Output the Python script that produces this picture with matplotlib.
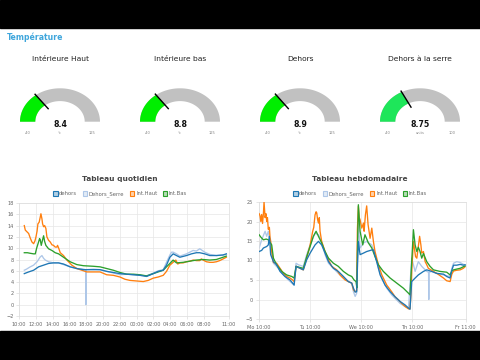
import numpy as np
import matplotlib
matplotlib.use("Agg")
import matplotlib.pyplot as plt
from matplotlib.patches import Polygon, Rectangle, Patch

# ---------------- data ----------------
section_title = "Température"

gauge_titles = ["Intérieure Haut", "Intérieure bas", "Dehors", "Dehors à la serre"]
gauge_values = [8.4, 8.8, 8.9, 8.75]
gauge_labels = ["8.4", "8.8", "8.9", "8.75"]
gauge_min = [-40, -40, -40, -40]
gauge_max = [125, 125, 125, 100]
gauge_units = ["°c", "°c", "°c", "units"]
gauge_colors = ["#00ee00", "#00ee00", "#00ee00", "#1ee65a"]

series_names = ["dehors", "Dehors_Serre", "Int.Haut", "Int.Bas"]
series_colors = ["#1f77b4", "#aec7e8", "#ff7f0e", "#2ca02c"]

# daily chart: hours since 10:00
day_tick_pos = [0, 2, 4, 6, 8, 10, 12, 14, 16, 18, 20, 22, 25]
day_tick_labels = ["10:00", "12:00", "14:00", "16:00", "18:00", "20:00", "22:00",
                   "00:00", "02:00", "04:00", "06:00", "08:00", "11:00"]

d_dehors_t = [0.63, 0.8, 1.15, 1.74, 2.33, 2.93, 3.52, 4.11, 4.71, 5.3, 6.09, 6.88, 7.67, 8.86,
              9.65, 10.44, 11.23, 12.03, 12.82, 13.61, 14.4, 15.19, 15.98, 16.57, 17.17, 17.56,
              17.96, 18.35, 18.75, 19.15, 19.94, 20.53, 21.12, 21.52, 22.11, 22.71, 23.5, 24.29, 24.68]
d_dehors_v = [5.5, 5.6, 5.8, 6.1, 6.7, 7.0, 7.3, 7.4, 7.4, 7.2, 6.7, 6.4, 6.2, 6.2,
              6.2, 5.9, 5.7, 5.5, 5.4, 5.3, 5.2, 5.0, 5.5, 5.9, 6.1, 7.0,
              8.4, 9.0, 8.7, 8.4, 8.7, 9.0, 9.2, 9.2, 9.0, 8.7, 8.7, 8.8, 9.0]

d_serre_t = [0.63, 0.9, 1.34, 1.74, 1.94, 2.15, 2.33, 2.5, 2.73, 2.93, 3.13, 3.52, 4.11, 4.71,
             5.3, 6.09, 6.88, 7.67, 7.93, 7.96, 7.99, 8.86, 9.65, 10.44, 11.23, 12.03, 12.82,
             13.61, 14.4, 15.19, 15.98, 16.57, 17.17, 17.56, 17.96, 18.16, 18.35, 18.75, 19.15,
             19.94, 20.73, 21.12, 21.52, 22.11, 22.71, 23.5, 24.29, 24.68]
d_serre_v = [6.1, 6.3, 6.7, 7.0, 7.3, 7.6, 8.0, 8.4, 8.7, 8.2, 7.9, 7.6, 7.4, 7.4,
             7.1, 6.7, 6.4, 6.3, 6.2, 0.0, 6.2, 6.3, 6.2, 5.9, 5.6, 5.3, 5.4,
             5.3, 5.2, 5.1, 5.6, 6.0, 6.2, 7.5, 8.8, 9.3, 9.3, 9.0, 8.6,
             9.0, 9.6, 9.5, 9.9, 9.3, 8.9, 8.7, 8.8, 8.9]

d_haut_t = [0.63, 0.75, 0.95, 1.15, 1.34, 1.54, 1.74, 1.9, 2.02, 2.15, 2.25, 2.4, 2.53, 2.61,
            2.73, 2.81, 2.93, 3.05, 3.2, 3.32, 3.52, 3.72, 3.92, 4.11, 4.31, 4.51, 4.59, 4.75,
            4.91, 5.3, 5.7, 6.29, 6.88, 7.48, 8.07, 8.86, 9.65, 10.44, 11.23, 12.03, 12.62,
            13.21, 14.0, 14.79, 15.39, 15.98, 16.57, 17.17, 17.56, 17.96, 18.35, 18.67, 18.9,
            19.15, 19.54, 19.94, 20.33, 20.73, 21.12, 21.52, 21.7, 21.91, 22.31, 22.71, 23.1,
            23.5, 23.89, 24.29, 24.68]
d_haut_v = [14.0, 13.2, 12.9, 12.6, 11.8, 11.1, 10.8, 11.3, 12.0, 13.0, 14.3, 14.6, 15.5, 16.1,
            15.2, 14.3, 13.8, 14.0, 13.5, 12.0, 11.4, 11.1, 10.6, 10.5, 10.2, 10.2, 10.5, 9.9,
            9.2, 8.7, 7.9, 7.0, 6.4, 6.1, 5.8, 5.8, 5.8, 5.3, 5.2, 4.9, 4.5,
            4.3, 4.2, 4.1, 4.3, 4.7, 4.9, 5.2, 5.9, 7.0, 7.5, 7.9, 7.2,
            7.4, 7.4, 7.6, 7.7, 7.9, 7.8, 7.8, 8.1, 7.9, 7.6, 7.5, 7.5,
            7.6, 7.8, 8.1, 8.4]

d_bas_t = [0.63, 1.0, 1.34, 1.74, 1.94, 2.1, 2.33, 2.45, 2.53, 2.65, 2.81, 2.93, 3.05, 3.2,
           3.52, 3.92, 4.31, 4.71, 5.3, 6.09, 6.88, 7.67, 8.86, 9.65, 10.44, 11.23, 12.03,
           12.82, 13.61, 14.4, 15.19, 15.98, 16.57, 17.17, 17.56, 17.96, 18.35, 18.75, 19.54,
           20.33, 21.12, 21.91, 22.71, 23.5, 24.29, 24.68]
d_bas_v = [9.2, 9.2, 9.1, 9.0, 9.0, 10.0, 11.1, 11.7, 11.5, 10.5, 11.5, 12.2, 11.2, 10.5,
           9.9, 9.6, 9.2, 9.0, 8.4, 7.6, 7.1, 6.9, 6.8, 6.7, 6.4, 6.1, 5.7,
           5.4, 5.4, 5.3, 5.1, 5.5, 5.8, 6.1, 6.7, 7.3, 7.9, 7.4, 7.5,
           7.7, 7.9, 8.0, 7.9, 8.0, 8.4, 8.6]

# weekly chart: hours since Monday 10:00
week_tick_pos = [0, 24, 48, 72, 97]
week_tick_labels = ["Mo 10:00", "Tu 10:00", "We 10:00", "Th 10:00", "Fr 11:00"]

w_dehors_t = [0.2, 1.4, 2.2, 3.75, 4.5, 5.0, 5.3, 5.6, 6.9, 8.4, 10.0, 12.3, 14.7, 15.9, 16.6,
              17.5, 19.4, 20.9, 22.5, 24.1, 26.4, 28.0, 29.5, 31.1, 32.7, 35.0, 37.3, 39.7,
              42.0, 43.6, 44.4, 45.2, 45.9, 46.25, 46.7, 47.5, 49.1, 50.6, 53.0, 53.75, 55.3,
              56.9, 59.2, 61.6, 63.9, 66.25, 68.6, 70.2, 70.9, 71.7, 73.3, 74.8, 77.2, 78.75,
              81.1, 83.4, 86.6, 88.1, 89.7, 90.5, 91.3, 92.8, 94.4, 95.9, 96.7]
w_dehors_v = [12.3, 12.6, 13.2, 13.6, 14.0, 16.2, 14.0, 11.5, 9.7, 8.9, 7.2, 5.9, 5.0, 4.2, 3.7,
              8.5, 8.0, 7.6, 10.2, 11.9, 14.0, 14.9, 14.0, 11.9, 9.7, 8.0, 7.2, 5.9,
              4.6, 4.2, 2.9, 1.9, 2.0, 8.0, 14.9, 11.5, 11.9, 12.3, 12.7, 12.7, 9.7,
              6.3, 3.7, 2.0, 0.7, -0.5, -1.4, -2.2, -2.5, 4.6, 5.5, 6.3, 7.2, 7.6,
              7.2, 6.7, 6.5, 5.9, 5.5, 7.5, 8.8, 8.8, 9.0, 8.8, 8.9]

w_serre_t = [0.2, 1.4, 3.0, 3.75, 4.5, 5.3, 6.1, 6.9, 9.2, 11.6, 13.9, 15.5, 16.6, 17.5, 18.6,
             20.9, 22.5, 24.1, 26.4, 28.0, 29.5, 31.1, 32.7, 35.0, 37.3, 39.7, 42.0, 43.6,
             44.4, 45.2, 45.9, 46.25, 46.7, 47.5, 49.1, 50.6, 53.0, 54.5, 56.1, 57.7, 60.0,
             62.3, 63.9, 66.25, 68.6, 70.2, 71.7, 73.3, 74.8, 76.4, 78.75, 79.6, 79.7, 79.8,
             81.1, 83.4, 86.6, 89.7, 90.5, 91.3, 92.8, 94.4, 95.9, 96.7]
w_serre_v = [13.2, 15.3, 17.5, 16.2, 17.5, 14.9, 11.5, 9.3, 8.0, 6.3, 5.0, 4.2, 3.7, 9.3, 8.9,
             8.5, 11.5, 14.0, 17.0, 16.6, 14.9, 11.5, 9.3, 8.0, 6.7, 5.5, 4.6, 4.2,
             2.0, 0.8, 1.6, 10.0, 20.0, 13.2, 14.5, 14.9, 14.0, 11.5, 8.0, 5.5, 2.9,
             1.2, 0.3, -1.0, -1.8, -2.2, 10.6, 7.2, 9.7, 8.5, 7.2, 7.0, 0.0, 7.0,
             7.2, 6.7, 6.3, 5.9, 8.0, 9.3, 9.7, 9.5, 9.0, 8.9]

w_haut_t = [0.2, 0.6, 1.0, 1.4, 1.8, 2.2, 2.5, 3.0, 3.4, 3.75, 4.1, 4.5, 5.0, 5.3, 5.6, 6.1,
            6.9, 8.4, 10.0, 11.6, 13.1, 14.7, 15.9, 16.6, 17.2, 17.5, 18.6, 19.4, 20.9, 22.5,
            24.1, 25.3, 25.8, 26.4, 26.9, 27.2, 27.6, 28.0, 28.4, 28.75, 29.5, 31.1, 32.7,
            34.2, 36.6, 38.1, 40.5, 42.0, 43.6, 44.4, 45.2, 45.9, 46.25, 46.7, 47.1, 47.5,
            48.3, 49.1, 49.4, 50.0, 50.6, 51.25, 52.2, 52.6, 53.0, 53.75, 54.5, 56.1, 57.7,
            60.0, 62.3, 63.9, 65.5, 67.0, 68.6, 70.2, 70.9, 71.3, 71.7, 72.5, 73.0, 73.5,
            74.1, 74.8, 75.4, 76.0, 76.4, 77.2, 78.0, 78.75, 79.5, 81.9, 84.0, 86.6, 88.1,
            89.7, 90.5, 91.3, 92.8, 94.4, 95.9, 96.7]
w_haut_v = [22.0, 21.5, 20.0, 21.8, 19.5, 22.0, 25.0, 21.0, 22.0, 20.0, 21.0, 18.0, 18.5, 16.0,
            15.0, 12.3, 9.5, 9.3, 8.0, 6.7, 5.9, 5.5, 5.0, 4.6, 7.0, 8.5, 8.2, 8.0, 7.6, 10.6,
            14.0, 17.5, 18.5, 21.7, 22.5, 22.2, 20.5, 19.6, 21.0, 17.5, 14.9, 12.3, 10.2,
            8.5, 7.6, 6.3, 5.0, 4.6, 4.2, 2.5, 2.0, 2.3, 18.0, 23.9, 21.0, 20.5,
            18.3, 19.6, 17.5, 21.7, 24.0, 19.2, 15.7, 17.0, 18.3, 14.9, 12.3, 8.9, 6.3,
            3.7, 2.0, 0.7, -0.1, -1.0, -1.8, -2.4, -2.4, 1.0, 7.2, 14.9, 13.0, 11.0,
            10.6, 13.6, 16.2, 14.0, 11.9, 12.3, 9.7, 8.9, 8.0, 7.2, 6.5, 5.5, 4.8,
            4.6, 6.5, 7.3, 7.5, 7.6, 8.0, 8.4]

w_bas_t = [0.2, 1.0, 2.2, 3.5, 4.5, 5.5, 6.1, 6.9, 8.4, 10.8, 13.1, 15.5, 16.6, 17.5, 19.4,
           20.9, 22.5, 24.1, 25.6, 26.9, 28.0, 29.5, 31.1, 32.7, 35.0, 37.3, 39.7, 42.0,
           43.6, 44.7, 45.6, 46.0, 46.25, 46.7, 47.5, 48.75, 49.8, 51.4, 53.0, 54.5, 56.1,
           58.4, 61.6, 64.7, 67.8, 70.2, 70.9, 71.7, 72.5, 73.3, 74.1, 74.8, 75.6, 76.4,
           77.2, 78.75, 80.3, 81.9, 85.0, 88.1, 89.7, 90.5, 91.3, 92.8, 94.4, 95.9, 96.7]
w_bas_v = [16.6, 16.0, 15.3, 15.5, 15.3, 14.5, 14.0, 10.6, 8.9, 7.2, 6.3, 5.9, 5.5, 8.5, 8.2,
           8.0, 11.0, 13.6, 16.2, 17.5, 16.2, 14.5, 12.3, 10.6, 9.3, 8.5, 7.2, 6.3,
           5.9, 5.0, 4.6, 3.0, 12.0, 24.3, 17.5, 14.0, 16.6, 14.5, 13.2, 11.0, 8.9,
           7.2, 5.5, 4.2, 2.9, 1.6, 1.2, 9.7, 17.9, 14.0, 12.3, 13.4, 12.3, 10.6,
           11.8, 9.7, 8.5, 7.6, 7.2, 7.0, 6.3, 7.3, 7.6, 7.8, 8.0, 8.4, 8.6]

# ---------------- figure ----------------
W, H = 480, 360
fig = plt.figure(figsize=(4.8, 3.6), dpi=100)
fig.patch.set_facecolor("white")
FONT = "DejaVu Sans"

bg = fig.add_axes([0, 0, 1, 1])
bg.set_xlim(0, W)
bg.set_ylim(H, 0)
bg.axis("off")
bg.add_patch(Rectangle((0, 0), W, 28, color="black", zorder=5))
bg.add_patch(Rectangle((0, 331), W, H - 331, color="black", zorder=5))

bg.text(7, 37, section_title, color="#3fa6dc", fontsize=5.6, fontweight="bold",
        va="center", ha="left", family=FONT)

# gauges
centers = [60, 180, 300, 420]
cy = 121.7
rxo, ryo = 40.0, 33.4
rxi, ryi = 24.7, 20.6


def band(cx, a0, a1):
    a = np.linspace(a0, a1, 80)
    outer = np.column_stack([cx + rxo * np.cos(a), cy - ryo * np.sin(a)])
    inner = np.column_stack([cx + rxi * np.cos(a[::-1]), cy - ryi * np.sin(a[::-1])])
    return np.vstack([outer, inner])


for i, cx in enumerate(centers):
    frac = (gauge_values[i] - gauge_min[i]) / (gauge_max[i] - gauge_min[i])
    ang = np.pi * (1 - frac)
    bg.add_patch(Polygon(band(cx, 0, np.pi), closed=True, facecolor="#c1c1c1",
                         edgecolor="none"))
    bg.add_patch(Polygon(band(cx, ang, np.pi), closed=True, facecolor=gauge_colors[i],
                         edgecolor="none"))
    r0, r1 = 0.47, 1.05
    bg.plot([cx + rxo * r0 * np.cos(ang), cx + rxo * r1 * np.cos(ang)],
            [cy - ryo * r0 * np.sin(ang), cy - ryo * r1 * np.sin(ang)],
            color="black", lw=1.0, solid_capstyle="butt")
    bg.text(cx, 59, gauge_titles[i], ha="center", va="center", fontsize=5.4,
            color="#222222", family=FONT)
    bg.text(cx, 124.5, gauge_labels[i], ha="center", va="center", fontsize=5.6,
            fontweight="bold", color="#111111", family=FONT)
    bg.text(cx - (rxo + rxi) / 2, 132.5, str(gauge_min[i]), ha="center", va="center",
            fontsize=2.6, color="#888888", family=FONT)
    bg.text(cx + (rxo + rxi) / 2, 132.5, str(gauge_max[i]), ha="center", va="center",
            fontsize=2.6, color="#888888", family=FONT)
    bg.text(cx, 133.5, gauge_units[i], ha="center", va="center",
            fontsize=2.6, color="#888888", family=FONT)


def style_axes(ax):
    ax.grid(True, color="#e6e6e6", lw=0.5)
    ax.set_axisbelow(True)
    for s in ax.spines.values():
        s.set_color("#dcdcdc")
        s.set_linewidth(0.5)
    ax.tick_params(axis="both", labelsize=3.6, colors="#dcdcdc", labelcolor="#666666",
                   length=2.5, width=0.5, pad=1.5)
    for lab in ax.get_xticklabels() + ax.get_yticklabels():
        lab.set_family(FONT)


def draw_series(ax, data):
    for (t, v), name, col, z in zip(data, series_names, series_colors, [5, 2, 3, 4]):
        ax.plot(t, v, color=col, lw=0.95, zorder=z, label=name)


def px(x0, y0, x1, y1):
    return [x0 / W, (H - y1) / H, (x1 - x0) / W, (y1 - y0) / H]


# daily
ax1 = fig.add_axes(px(19, 203, 229, 316))
draw_series(ax1, [(d_dehors_t, d_dehors_v), (d_serre_t, d_serre_v),
                  (d_haut_t, d_haut_v), (d_bas_t, d_bas_v)])
ax1.set_xlim(0, 25)
ax1.set_ylim(-2, 18)
ax1.set_yticks(np.arange(-2, 19, 2))
ax1.set_xticks(day_tick_pos)
ax1.set_xticklabels(day_tick_labels)
style_axes(ax1)

# weekly
ax2 = fig.add_axes(px(258.7, 202, 465.7, 319))
draw_series(ax2, [(w_dehors_t, w_dehors_v), (w_serre_t, w_serre_v),
                  (w_haut_t, w_haut_v), (w_bas_t, w_bas_v)])
ax2.set_xlim(0, 97)
ax2.set_ylim(-5, 25)
ax2.set_yticks(np.arange(-5, 26, 5))
ax2.set_xticks(week_tick_pos)
ax2.set_xticklabels(week_tick_labels)
style_axes(ax2)

# titles + legends
for cx, title in [(120, "Tableau quotidien"), (360, "Tableau hebdomadaire")]:
    fig.text(cx / W, (H - 179) / H, title, ha="center", va="center", fontsize=5.3,
             fontweight="bold", color="#444444", family=FONT)
    handles = [Patch(facecolor=matplotlib.colors.to_rgba(c, 0.35), edgecolor=c, lw=0.8)
               for c in series_colors]
    fig.legend(handles, series_names, loc="center", bbox_to_anchor=(cx / W, (H - 194) / H),
               ncol=4, frameon=False, handlelength=0.9, handleheight=0.9,
               handletextpad=0.3, columnspacing=1.0, labelcolor="#666666",
               prop={"family": FONT, "size": 3.8})

fig.savefig("out.png", dpi=100, facecolor="white")
